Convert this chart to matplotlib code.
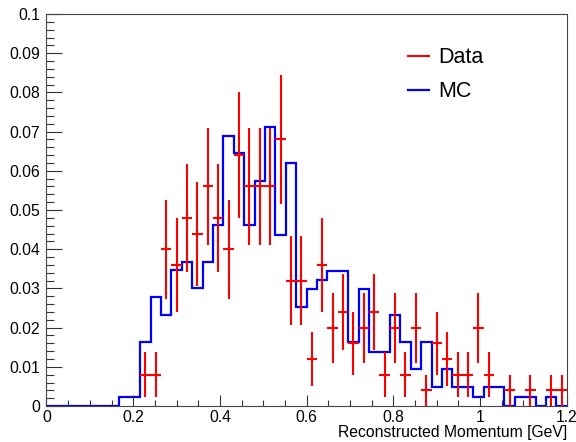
# ROOT-style momentum histogram: data (counts, normalised) vs MC

import matplotlib.pyplot as plt
import numpy as np
from matplotlib.lines import Line2D
from matplotlib.ticker import MultipleLocator

plt.rcParams['font.family'] = ['Liberation Sans', 'DejaVu Sans']

# 50 bins from 0 to 1.2 GeV
edges = np.linspace(0.0, 1.2, 51)
centers = 0.5 * (edges[:-1] + edges[1:])
half_width = 0.5 * (edges[1] - edges[0])

# data counts per bin (normalised by n_data)
n_data = 250
data_counts = [0, 0, 0, 0, 0, 0, 0, 0, 0, 2,
               2, 10, 9, 12, 11, 14, 12, 10, 16, 14,
               14, 14, 17, 8, 8, 3, 9, 5, 6, 4,
               5, 6, 2, 5, 2, 5, 1, 4, 3, 2,
               2, 5, 2, 0, 1, 0, 1, 0, 1, 1]

# MC shape, already normalised
mc_values = [0, 0, 0, 0, 0, 0, 0, 0.0024, 0.0024, 0.0163,
             0.0278, 0.0232, 0.0346, 0.0368, 0.0300, 0.0368, 0.0462, 0.0689, 0.0645, 0.0462,
             0.0574, 0.0713, 0.0437, 0.0619, 0.0253, 0.0299, 0.0321, 0.0345, 0.0345, 0.0163,
             0.0299, 0.0137, 0.0137, 0.0231, 0.0163, 0.0094, 0.0163, 0.0048, 0.0094, 0.0048,
             0.0048, 0.0024, 0.0048, 0.0048, 0, 0.0024, 0.0024, 0, 0.0024, 0]

counts = np.array(data_counts, dtype=float)
mask = counts > 0
data_y = counts / n_data
data_err = np.sqrt(counts) / n_data

fig = plt.figure(figsize=(5.76, 4.42), dpi=100)
ax = fig.add_axes([0.0807, 0.0814, 0.9033, 0.8869])

ax.stairs(mc_values, edges, color='#0000ff', lw=1.6)
ax.errorbar(centers[mask], data_y[mask], xerr=half_width, yerr=data_err[mask],
            fmt='none', ecolor='#ff0000', elinewidth=1.5, capsize=0)

ax.set_xlim(0, 1.2)
ax.set_ylim(0, 0.1)

ax.xaxis.set_major_locator(MultipleLocator(0.2))
ax.xaxis.set_minor_locator(MultipleLocator(0.05))
ax.yaxis.set_major_locator(MultipleLocator(0.01))
ax.yaxis.set_minor_locator(MultipleLocator(0.002))
ax.xaxis.set_major_formatter(lambda v, p: f"{v:g}")
ax.yaxis.set_major_formatter(lambda v, p: f"{v:g}")

ax.tick_params(axis='both', which='both', direction='in', colors='#333333',
               labelcolor='black', labelsize=11.3, width=0.8)
ax.tick_params(axis='y', which='major', length=11.5, pad=4.5)
ax.tick_params(axis='y', which='minor', length=5.8)
ax.tick_params(axis='x', which='major', length=8, pad=3)
ax.tick_params(axis='x', which='minor', length=4.3)
for s in ax.spines.values():
    s.set_color('#444444')
    s.set_linewidth(0.8)

ax.set_xlabel('Reconstructed Momentum [GeV]', fontsize=11.3, loc='right')
ax.xaxis.set_label_coords(1.0, -0.048)

leg_handles = [Line2D([], [], color='#ff0000', lw=1.5),
               Line2D([], [], color='#0000ff', lw=1.6)]
ax.legend(leg_handles, ['Data', 'MC'], loc='upper left', bbox_to_anchor=(0.657, 0.965),
          frameon=False, fontsize=15.5, handlelength=1.0, handletextpad=0.4,
          labelspacing=0.62)

fig.savefig('out.png', dpi=100)
